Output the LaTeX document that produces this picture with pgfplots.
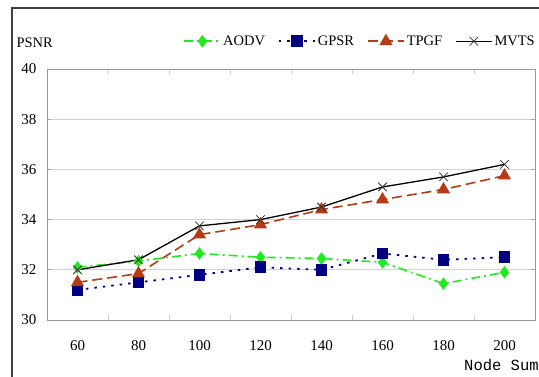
\documentclass[border=0pt]{standalone}
\usepackage{pgfplots}
\pgfplotsset{compat=1.18}
\usepackage{fontspec}
\setmainfont{Liberation Serif}
\newfontfamily\monofont{Liberation Mono}
\definecolor{cAODV}{RGB}{30,235,30}
\definecolor{cGPSR}{RGB}{0,0,130}
\definecolor{cTPGF}{RGB}{180,60,20}
\begin{document}
\begin{tikzpicture}[x=1pt,y=1pt]
\useasboundingbox (0,0) rectangle (539,376);
\draw[line width=1.3pt, black!75] (12,-5) -- (12,368) -- (545,368);
\node[anchor=west, font=\fontsize{14.5}{14.5}\selectfont] at (13,333) {PSNR};
\node[anchor=west, font=\monofont\fontsize{15.5}{15.5}\selectfont, inner sep=0pt] at (464,11) {Node Sum};
\begin{axis}[
  at={(47pt,56pt)}, anchor=south west,
  scale only axis, width=488pt, height=251pt,
  xmin=50, xmax=210, ymin=30, ymax=40,
  xtick={60,80,...,200}, ytick={30,32,...,40},
  minor xtick={70,90,...,190},
  major x tick style={draw=none},
  minor x tick style={gray!40, line width=0.8pt},
  minor tick length=5pt,
  major y tick style={gray!70, line width=0.8pt},
  y tick label style={xshift=-7pt},
  x tick label style={yshift=-17pt},
  ymajorgrids, grid style={gray!35, line width=0.8pt},
  axis line style={gray!80, line width=1pt},
  tick label style={font=\fontsize{15}{15}\selectfont},
  /pgf/number format/assume math mode=true,
  legend columns=4,
  legend cell align=left,
  legend style={draw=none, fill=none, at={(axis description cs:1.0,1.0)}, anchor=south east, yshift=20pt, xshift=2pt,
    font=\fontsize{14.5}{14.5}\selectfont, inner sep=0pt,
    /tikz/every even column/.append style={column sep=11pt}},
  legend image code/.code={\draw[#1, mark repeat=2, mark phase=2] plot coordinates {(0pt,0pt) (18pt,0pt) (36pt,0pt)};},
]
\addplot[cAODV, line width=1.6pt, dash pattern=on 9pt off 4pt on 2pt off 4pt, mark=diamond*, mark size=5pt, mark options={solid}] coordinates {
(60,32.1) (80,32.35) (100,32.65) (120,32.5) (140,32.45) (160,32.3) (180,31.45) (200,31.9)};
\addlegendentry{AODV}
\addplot[cGPSR, line width=1.8pt, dash pattern=on 2.5pt off 6pt, mark=square*, mark size=5pt, mark options={solid}] coordinates {
(60,31.2) (80,31.5) (100,31.8) (120,32.1) (140,32.0) (160,32.65) (180,32.4) (200,32.5)};
\addlegendentry{GPSR}
\addplot[cTPGF, line width=1.6pt, dash pattern=on 10pt off 5pt, mark=triangle*, mark size=6pt, mark options={solid}] coordinates {
(60,31.5) (80,31.85) (100,33.4) (120,33.8) (140,34.4) (160,34.8) (180,35.2) (200,35.75)};
\addlegendentry{TPGF}
\addplot[black, line width=1.3pt, mark=x, mark size=6pt, mark options={line width=0.8pt, black!80}] coordinates {
(60,32.0) (80,32.4) (100,33.75) (120,34.0) (140,34.5) (160,35.3) (180,35.7) (200,36.2)};
\addlegendentry{MVTS}
\end{axis}
\end{tikzpicture}
\end{document}
